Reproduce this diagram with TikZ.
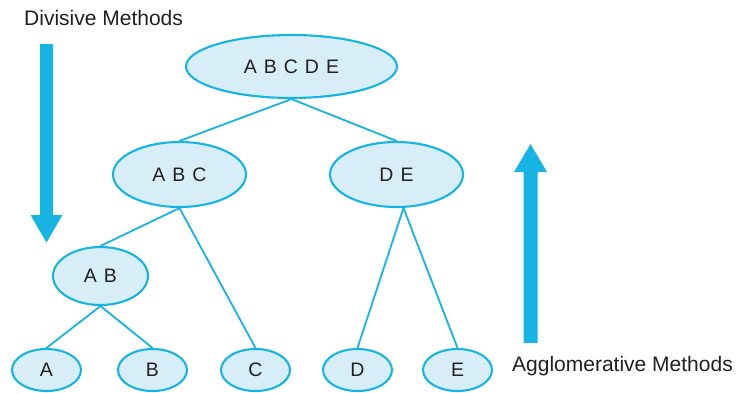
\documentclass[tikz,border=0pt]{standalone}
\usepackage{fontspec}
\setmainfont{Liberation Sans}
\usetikzlibrary{shapes.geometric}
\definecolor{cline}{RGB}{22,180,226}
\definecolor{cfill}{RGB}{215,238,249}
\definecolor{ctext}{RGB}{35,31,32}
\tikzset{
  clus/.style={ellipse, draw=cline, fill=cfill, line width=2.1pt, inner sep=0pt,
    text=ctext, font={\fontsize{19.5}{20}\selectfont\spaceskip=7pt\relax}},
  link/.style={draw=cline, line width=1.8pt},
  bigarrow/.style={fill=cline},
  caption/.style={anchor=base west, inner sep=0pt, text=ctext, font={\fontsize{21}{22}\selectfont}}
}
\begin{document}
\begin{tikzpicture}[x=1pt,y=-1pt]
\path[use as bounding box] (0,0) rectangle (743,392);
\node[clus, minimum width=211pt, minimum height=63pt] (abcde) at (291.5,66.5) {A B C D E};
\node[clus, minimum width=133pt, minimum height=65pt] (abc) at (179.5,174.5) {A B C};
\node[clus, minimum width=133pt, minimum height=65pt] (de) at (396.5,174.5) {D E};
\node[clus, minimum width=95pt, minimum height=58pt] (ab) at (100.5,276) {A B};
\node[clus, minimum width=69pt, minimum height=42pt] (a) at (46.5,370) {A};
\node[clus, minimum width=69pt, minimum height=42pt] (b) at (152.5,370) {B};
\node[clus, minimum width=69pt, minimum height=42pt] (c) at (255.5,370) {C};
\node[clus, minimum width=69pt, minimum height=42pt] (d) at (357.5,370) {D};
\node[clus, minimum width=69pt, minimum height=42pt] (e) at (457.5,370) {E};
\draw[link] (abcde.south) -- (abc.north);
\draw[link] (abcde.south) -- (de.north);
\draw[link] (abc.south) -- (ab.north);
\draw[link] (abc.south) -- (c.north);
\draw[link] (ab.south) -- (a.north);
\draw[link] (ab.south) -- (b.north);
\draw[link] ([xshift=7pt]de.south) -- (d.north);
\draw[link] ([xshift=7pt]de.south) -- (e.north);
% divisive arrow (down)
\fill[bigarrow] (40,44) -- (53,44) -- (53,215) -- (62.5,215) -- (46.5,242.5) -- (30.5,215) -- (40,215) -- cycle;
% agglomerative arrow (up)
\fill[bigarrow] (523.5,343) -- (537.5,343) -- (537.5,172) -- (547,172) -- (530.5,144) -- (514,172) -- (523.5,172) -- cycle;
\node[caption] (div) at (24,25) {Divisive Methods};
\node[caption] (agg) at (512,371.5) {Agglomerative Methods};
\end{tikzpicture}
\end{document}
